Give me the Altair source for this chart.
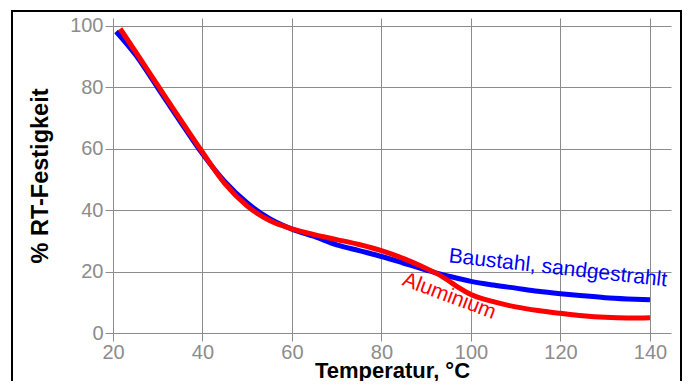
import altair as alt
import pandas as pd

# Baustahl, sandgestrahlt (blue)
temp_stahl = [20.7, 25, 30, 35, 40, 45, 50, 55, 60, 65, 70, 75, 80, 85, 90, 92.3, 95, 100, 105, 110, 115, 120, 125, 130, 135, 140]
rt_stahl = [98.1, 90.6, 79.8, 68.9, 58.3, 49.2, 42.3, 37.2, 33.8, 31.4, 28.7, 26.8, 24.9, 22.7, 20.5, 19.5, 18.5, 16.8, 15.6, 14.6, 13.6, 12.8, 12.1, 11.5, 11.1, 10.8]

# Aluminium (red)
temp_alu = [21.6, 25, 30, 35, 40, 45, 50, 55, 60, 65, 70, 75, 80, 85, 90, 92.3, 95, 97, 100, 105, 110, 115, 120, 125, 130, 135, 140]
rt_alu = [99.0, 91.6, 80.6, 69.6, 58.8, 48.6, 41.3, 36.6, 33.9, 32.0, 30.4, 28.8, 26.8, 24.2, 21.0, 19.4, 17.0, 15.0, 12.5, 10.2, 8.5, 7.3, 6.4, 5.6, 5.1, 4.9, 5.0]

x_ticks = [20, 40, 60, 80, 100, 120, 140]
y_ticks = [0, 20, 40, 60, 80, 100]

label_stahl = "Baustahl, sandgestrahlt"
label_alu = "Aluminium"

FONT = "Liberation Sans"
GRAY = "#8c8c8c"

df_stahl = pd.DataFrame({"t": temp_stahl, "v": rt_stahl})
df_alu = pd.DataFrame({"t": temp_alu, "v": rt_alu})

x_scale = alt.Scale(domain=[20, 144.7], nice=False, zero=False)
y_scale = alt.Scale(domain=[0, 102.5], nice=False, zero=False)

x_axis = alt.Axis(
    values=x_ticks, title="Temperatur, °C", grid=True, domain=False,
    tickSize=8, tickColor=GRAY, gridColor=GRAY, gridWidth=1, tickWidth=1,
    labelFontSize=20, labelColor=GRAY, labelPadding=1, labelFlush=False,
    labelOverlap=False, labelFont=FONT,
    titleFontSize=22, titleFontWeight="bold", titleColor="black", titleFont=FONT,
    titleY=44, titleBaseline="alphabetic",
)
y_axis = alt.Axis(
    values=y_ticks, title="% RT-Festigkeit", grid=True, domain=False,
    tickSize=8, tickColor=GRAY, gridColor=GRAY, gridWidth=1, tickWidth=1,
    labelFontSize=20, labelColor=GRAY, labelPadding=2, labelFlush=False,
    labelOverlap=False, labelFont=FONT,
    titleFontSize=23.5, titleFontWeight="bold", titleColor="black", titleFont=FONT,
    titleX=-66, titleY=157.5, titleBaseline="alphabetic", titleAngle=270,
)

stahl = alt.Chart(df_stahl).mark_line(
    color="#0000ff", strokeWidth=5, interpolate="monotone"
).encode(
    x=alt.X("t:Q", scale=x_scale, axis=x_axis),
    y=alt.Y("v:Q", scale=y_scale, axis=y_axis),
)
alu = alt.Chart(df_alu).mark_line(
    color="#ff0000", strokeWidth=5, interpolate="monotone"
).encode(
    x=alt.X("t:Q", scale=x_scale),
    y=alt.Y("v:Q", scale=y_scale),
)

txt_stahl = alt.Chart(pd.DataFrame({"t": [94.9], "v": [23.0], "s": [label_stahl]})).mark_text(
    color="#0000ff", fontSize=21, font=FONT, angle=6.3, align="left", baseline="alphabetic"
).encode(x=alt.X("t:Q", scale=x_scale), y=alt.Y("v:Q", scale=y_scale), text="s:N")

txt_alu = alt.Chart(pd.DataFrame({"t": [84.4], "v": [15.7], "s": [label_alu]})).mark_text(
    color="#ff0000", fontSize=21, font=FONT, angle=20.5, align="left", baseline="alphabetic"
).encode(x=alt.X("t:Q", scale=x_scale), y=alt.Y("v:Q", scale=y_scale), text="s:N")

base = alt.Chart(pd.DataFrame({"d": [0]}))
border_left = base.mark_rule(color="black", strokeWidth=2).encode(
    x=alt.value(-101), y=alt.value(-7), y2=alt.value(370))
border_top = base.mark_rule(color="black", strokeWidth=2).encode(
    x=alt.value(-102), x2=alt.value(569), y=alt.value(-7))
border_right = base.mark_rule(color="black", strokeWidth=2).encode(
    x=alt.value(568), y=alt.value(-7), y2=alt.value(370))

chart = alt.layer(
    border_left, border_top, border_right, stahl, alu, txt_stahl, txt_alu
).properties(
    width=558, height=315,
    autosize=alt.AutoSizeParams(type="none"),
    padding={"left": 105, "top": 10, "right": 11, "bottom": 48},
).configure_view(stroke=None)

chart.save("out.html", embed_options={"renderer": "svg", "actions": False})
